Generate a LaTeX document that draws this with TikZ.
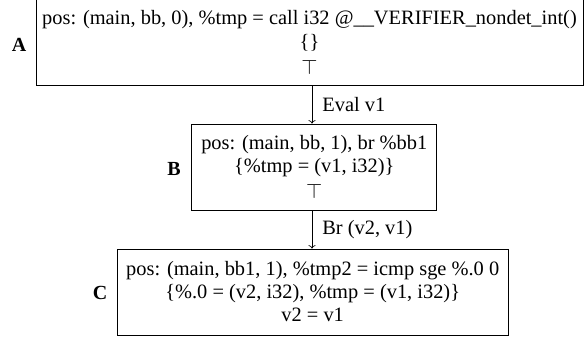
\documentclass[tikz,border=0pt]{standalone}
\usepackage{fontspec}
\setmainfont{Liberation Serif}
\usetikzlibrary{arrows.meta}
\begin{document}
\begin{tikzpicture}[x=1pt,y=1pt,
  box/.style={draw, line width=0.8pt, align=center, inner sep=0pt, font=\fontsize{20.4}{23}\selectfont},
  lbl/.style={font=\fontsize{20}{22}\selectfont\bfseries},
  edge/.style={line width=0.7pt, -{To[length=3.5pt,width=7pt]}},
  elbl/.style={font=\fontsize{20.4}{23}\selectfont, anchor=west, inner sep=0pt}]
\useasboundingbox (0,0) rectangle (584,337);
\node[box, minimum width=547, minimum height=85.5] (A) at (309.5,294.5)
  {pos: (main, bb, 0), \%tmp = call i32 @\_\_VERIFIER\_nondet\_int()\\[1pt]\{\}\\[3pt]$\top$};
\node[box, minimum width=245, minimum height=86] (B) at (314.3,170)
  {pos: (main, bb, 1), br \%bb1\\\{\%tmp = (v1, i32)\}\\[3pt]$\top$};
\node[box, minimum width=391, minimum height=86] (C) at (312.7,45)
  {pos: (main, bb1, 1), \%tmp2 = icmp sge \%.0 0\\\{\%.0 = (v2, i32), \%tmp = (v1, i32)\}\\v2 = v1};
\node[lbl] (la) at (19,292) {A};
\node[lbl] (lb) at (174,168) {B};
\node[lbl] (lc) at (100,44) {C};
\coordinate (a1) at (312,0 |- A.south);
\coordinate (b1) at (312,0 |- B.north);
\coordinate (b2) at (312,0 |- B.south);
\coordinate (c1) at (312,0 |- C.north);
\draw[edge] (a1) -- node[elbl, xshift=10pt] (e1) {Eval v1} (b1);
\draw[edge] (b2) -- node[elbl, xshift=10pt] (e2) {Br (v2, v1)} (c1);
\end{tikzpicture}
\end{document}
